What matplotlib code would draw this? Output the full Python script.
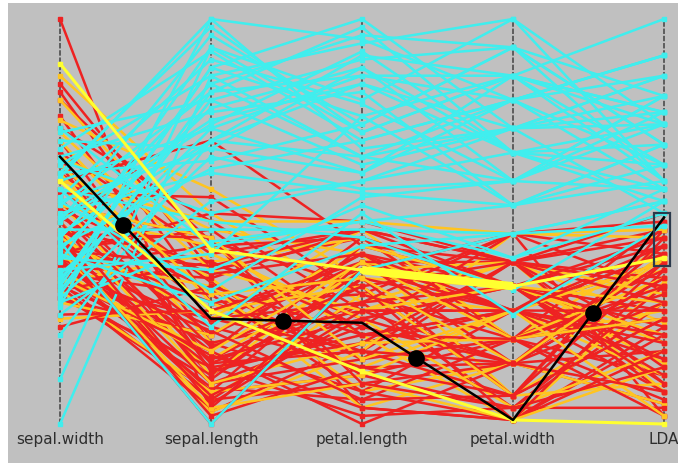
import numpy as np
import matplotlib
matplotlib.use("Agg")
import matplotlib.pyplot as plt
from matplotlib.patches import Rectangle

# axes of the parallel-coordinates plot
dims = ["sepal.width", "sepal.length", "petal.length", "petal.width", "LDA"]

# values on a 0-100 scale, 100 = top of each axis
cyan_sw = [0, 11, 22, 27, 30, 33, 45, 29, 31, 34, 36, 38, 40, 41, 43, 44, 46, 47, 48, 50, 51, 52, 54,
           55, 56, 58, 60, 61, 62, 64, 65, 66, 68, 70, 72, 73, 35, 50, 42, 58, 46, 55, 62, 37, 32]
cyan_sl = [86, 93, 70, 55, 45, 80, 0, 100, 66, 88, 73, 42, 93, 38, 78, 63, 84, 70, 48, 96, 75, 62, 82,
           68, 90, 24, 73, 100, 65, 86, 52, 77, 92, 68, 80, 44, 88, 74, 30, 50, 84, 33, 98, 70, 82]
cyan_pl = [66, 72, 84, 60, 50, 90, 38, 95, 58, 100, 62, 76, 80, 54, 88, 70, 66, 91, 48, 74, 84, 57, 98,
           62, 79, 52, 86, 68, 74, 94, 60, 82, 70, 88, 64, 50, 76, 92, 44, 46, 96, 56, 72, 66, 86]
cyan_pw = [80, 86, 67, 73, 54, 93, 47, 80, 60, 73, 86, 54, 100, 41, 67, 80, 60, 86, 47, 93, 73, 54, 67,
           80, 60, 27, 86, 73, 93, 100, 67, 54, 80, 60, 73, 41, 86, 67, 47, 33, 93, 60, 86, 73, 80]
cyan_lda = [64, 74, 58, 81, 60, 69, 55, 91, 77, 86, 100, 64, 74, 52, 69, 58, 81, 77, 55, 60, 86, 69, 74,
            91, 58, 49, 64, 77, 81, 60, 55, 69, 86, 74, 52, 58, 77, 64, 49, 55, 69, 81, 60, 74, 91]

red_sw = [100, 84, 82, 80, 76, 73, 70, 67, 64, 62, 60, 58, 56, 54, 52, 51, 50, 48, 47, 46, 45, 44,
          43, 42, 41, 40, 39, 38, 37, 36, 35, 35, 34, 33, 33, 32, 31, 31, 34, 37, 40, 42, 45, 27,
          24, 57, 44, 39, 36, 48, 53, 41, 47, 55, 66, 45, 38, 50, 43, 52]
red_sl = [3, 38, 30, 45, 25, 50, 20, 42, 15, 35, 70, 28, 10, 46, 22, 33, 12, 40, 18, 6, 30, 14,
          48, 8, 24, 16, 36, 9, 20, 12, 26, 6, 18, 11, 40, 8, 22, 14, 4, 32, 16, 52, 10, 28,
          34, 56, 2, 44, 17, 26, 37, 7, 46, 19, 13, 0, 23, 5, 39, 15]
red_pl = [20, 46, 18, 34, 42, 28, 8, 48, 30, 12, 44, 38, 24, 4, 40, 16, 36, 26, 46, 10, 32, 2,
          22, 40, 14, 34, 48, 6, 28, 44, 18, 30, 0, 38, 24, 12, 42, 20, 36, 8, 26, 50, 16, 40,
          22, 32, 14, 46, 4, 30, 42, 26, 10, 34, 22, 38, 6, 28, 48, 18]
red_pw = [28, 21, 40, 7, 34, 15, 28, 40, 4, 21, 34, 47, 15, 1, 28, 40, 7, 34, 21, 15, 47, 4,
          28, 40, 15, 1, 34, 21, 28, 40, 7, 34, 15, 28, 47, 4, 21, 40, 28, 1, 34, 40, 21, 15,
          28, 21, 7, 34, 1, 47, 28, 15, 4, 40, 21, 34, 7, 28, 40, 15]
red_lda = [40, 12, 48, 26, 8, 36, 44, 20, 30, 50, 16, 33, 5, 24, 42, 10, 46, 28, 38, 18, 2, 34,
           48, 14, 40, 22, 44, 26, 8, 36, 48, 12, 30, 20, 42, 4, 34, 46, 16, 38, 24, 52, 6, 44,
           28, 32, 40, 10, 18, 50, 22, 36, 14, 30, 2, 46, 26, 42, 34, 8]

gold_sw = [86, 80, 75, 70, 66, 62, 58, 55, 52, 48, 46, 43, 41, 38, 35, 33, 30, 26, 50, 60, 72, 44, 36, 54, 64]
gold_sl = [52, 40, 58, 30, 48, 20, 36, 12, 44, 6, 26, 3, 34, 16, 42, 8, 22, 28, 10, 50, 38, 4, 18, 46, 32]
gold_pl = [30, 46, 36, 14, 42, 28, 8, 40, 22, 32, 48, 18, 4, 38, 26, 12, 44, 34, 20, 50, 28, 10, 40, 16, 36]
gold_pw = [40, 21, 34, 28, 7, 40, 15, 34, 1, 28, 21, 47, 15, 40, 4, 28, 34, 7, 21, 47, 34, 1, 21, 28, 15]
gold_lda = [25, 44, 15, 38, 30, 8, 42, 20, 35, 12, 28, 46, 5, 32, 18, 40, 22, 10, 36, 48, 30, 14, 26, 2, 41]

# brushed (highlighted) records and the selected record
bright_a = [89, 43, 38, 34, 41]
bright_b = [60, 28, 13, 1, 0]
selected = [66, 26, 25, 1, 51]
dot_frac = [0.42, 0.48, 0.36, 0.53]

# brush box on the LDA axis
brush_lo, brush_hi = 39, 52

CYAN = "#40eeee"
RED = "#ee2222"
GOLD = "#ffc420"
BRIGHT = "#ffff30"
BG = "#c0c0c0"

fig = plt.figure(figsize=(6.78, 4.64), dpi=100, facecolor="white")
ax = fig.add_axes([8 / 678, 0, 670 / 678, 460 / 464])
ax.set_facecolor(BG)
ax.set_xlim(-52 / 151, 618 / 151)
ax.set_ylim(-39 / 4.05, 421 / 4.05)
ax.axis("off")
ax.add_patch(Rectangle((-1, -20), 10, 200, color=BG, zorder=0))

x = np.arange(len(dims))

# vertical axes
for xi in x:
    ax.plot([xi, xi], [0, 100], color="#555555", lw=1.3, dashes=(3, 1), zorder=1)

groups = [
    (np.array([red_sw, red_sl, red_pl, red_pw, red_lda]).T, RED, 0.0),
    (np.array([gold_sw, gold_sl, gold_pl, gold_pw, gold_lda]).T, GOLD, 0.01),
    (np.array([cyan_sw, cyan_sl, cyan_pl, cyan_pw, cyan_lda]).T, CYAN, 0.85),
]

# mix the drawing order of the three groups, cyan mostly on top
order = []
for rows, col, bias in groups:
    for i, r in enumerate(rows):
        order.append((i / len(rows) + bias, r, col))
order.sort(key=lambda t: t[0])

for k, (_, r, col) in enumerate(order):
    ax.plot(x, r, color=col, lw=1.8, marker="s", ms=2.6,
            solid_capstyle="round", zorder=2 + k * 0.001)

# brushed lines
ax.plot(x, bright_b, color=BRIGHT, lw=2.2, marker="s", ms=3, zorder=5)
ax.plot(x, bright_a, color=BRIGHT, lw=2.2, marker="s", ms=3, zorder=5)
ax.plot(x[2:4], bright_a[2:4], color=BRIGHT, lw=6, solid_capstyle="butt", zorder=5)

# selected record with handles
ax.plot(x, selected, color="black", lw=1.8, zorder=6)
dx = x[:-1] + np.array(dot_frac)
dy = np.interp(dx, x, selected)
ax.plot(dx, dy, "o", color="black", ms=11, zorder=7)

ax.add_patch(Rectangle((x[-1] - 10 / 151, brush_lo), 16 / 151, brush_hi - brush_lo,
                       fill=False, edgecolor="#2b3a4c", lw=1.6, zorder=8))

for xi, name in zip(x, dims):
    ax.text(xi, -3.5, name, ha="center", va="center", fontsize=11,
            color="#2e2e2e", zorder=9)

fig.savefig("out.png", dpi=100, facecolor="white")
